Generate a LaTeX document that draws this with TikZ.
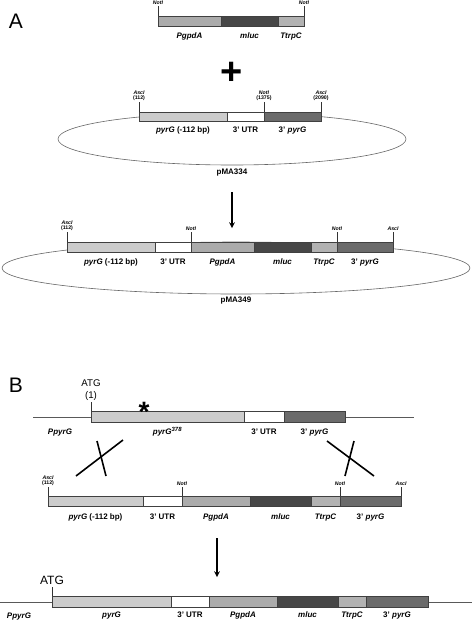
\documentclass[tikz,border=0pt]{standalone}
\usepackage{fontspec}
\setmainfont{Liberation Sans}
\usepackage{tikz}
\usetikzlibrary{arrows,shapes,positioning}

\begin{document}
\begin{tikzpicture}[x=1pt, y=-1pt, >=stealth, inner sep=0pt, outer sep=0pt, node distance=0pt,
  seg/.style={rectangle, draw=black!75, line width=0.6pt, minimum height=10pt},
  pyr/.style={seg, fill=black!20}, utr/.style={seg, fill=white},
  gpd/.style={seg, fill=black!33}, luc/.style={seg, fill=black!72},
  trp/.style={seg, fill=black!30}, end3/.style={seg, fill=black!58},
  lab/.style={font=\fontsize{8}{9}\selectfont\bfseries, text height=6pt, text depth=2pt},
  site/.style={font=\fontsize{5.2}{5.8}\selectfont\bfseries, align=center},
  tick/.style={draw=black!80, line width=0.6pt},
  dna/.style={draw=black!65, line width=0.8pt},
  plasmid/.style={ellipse, draw=black!60, line width=0.6pt},
  cross/.style={line width=1.6pt},
  panel/.style={font=\fontsize{21}{21}\selectfont, anchor=base west}]
\useasboundingbox (0,0) rectangle (472,622);

\node [panel] (pA) at (9,28) {A};
\node [panel] (pB) at (9,392) {B};

% cassette
\node [gpd, minimum width=63pt, anchor=west] (c1) at (158,21) {};
\node [luc, minimum width=57pt] (c2) [right=of c1] {};
\node [trp, minimum width=26pt] (c3) [right=of c2] {};
\coordinate [above=10pt of c1.north west] (cn1);
\coordinate [above=10pt of c3.north east] (cn2);
\draw [tick] (c1.north west) -- (cn1);
\draw [tick] (c3.north east) -- (cn2);
\node [site, above=1pt of cn1] (cs1) {\itshape NotI};
\node [site, above=1pt of cn2] (cs2) {\itshape NotI};
\node [lab, below=6pt of c1] (cl1) {\itshape PgpdA};
\node [lab, below=6pt of c2] (cl2) {\itshape mluc};
\node [lab, below=6pt of c3] (cl3) {\itshape TtrpC};

\node [font=\fontsize{38}{38}\selectfont\bfseries, anchor=base] (plus) at (232,84) {+};

% pMA334
\node [plasmid, minimum width=348pt, minimum height=52pt] (pl1) at (232,139) {};
\node [lab, below=3pt of pl1] (pl1n) {pMA334};
\node [pyr, minimum width=88pt, minimum height=9pt, anchor=west] (d1) at (139,116.5) {};
\node [utr, minimum width=37pt, minimum height=9pt] (d2) [right=of d1] {};
\node [end3, minimum width=57pt, minimum height=9pt] (d3) [right=of d2] {};
\coordinate [above=10pt of d1.north west] (dn1);
\coordinate [above=10pt of d3.north west] (dn2);
\coordinate [above=10pt of d3.north east] (dn3);
\draw [tick] (d1.north west) -- (dn1);
\draw [tick] (d3.north west) -- (dn2);
\draw [tick] (d3.north east) -- (dn3);
\node [site, above=1pt of dn1] (ds1) {\itshape AscI\\(112)};
\node [site, above=1pt of dn2] (ds2) {\itshape NotI\\(1375)};
\node [site, above=1pt of dn3] (ds3) {\itshape AscI\\(2090)};
\node [lab, below=5pt of d1] (dl1) {\itshape pyrG\upshape{} (-112 bp)};
\node [lab, below=5pt of d2] (dl2) {3' UTR};
\node [lab, below=5pt of d3] (dl3) {3' \itshape pyrG};

\coordinate (a1s) at (232,192);
\coordinate (a1e) at (232,228);
\draw [->, line width=1.5pt] (a1s) -- (a1e);

% pMA349
\node [plasmid, minimum width=468pt, minimum height=52pt] (pl2) at (236,268) {};
\node [lab, below=2pt of pl2] (pl2n) {pMA349};
\node [pyr, minimum width=88pt, anchor=west] (e1) at (67,247) {};
\node [utr, minimum width=36pt] (e2) [right=of e1] {};
\node [gpd, minimum width=63pt] (e3) [right=of e2] {};
\node [luc, minimum width=57pt] (e4) [right=of e3] {};
\node [trp, minimum width=26pt] (e5) [right=of e4] {};
\node [end3, minimum width=56pt] (e6) [right=of e5] {};
\coordinate [above=10pt of e1.north west] (en1);
\coordinate [above=10pt of e3.north west] (en2);
\coordinate [above=10pt of e6.north west] (en3);
\coordinate [above=10pt of e6.north east] (en4);
\draw [tick] (e1.north west) -- (en1);
\draw [tick] (e3.north west) -- (en2);
\draw [tick] (e6.north west) -- (en3);
\draw [tick] (e6.north east) -- (en4);
\node [site, above=1pt of en1] (es1) {\itshape AscI\\(112)};
\node [site, above=1pt of en2] (es2) {\itshape NotI};
\node [site, above=1pt of en3] (es3) {\itshape NotI};
\node [site, above=1pt of en4] (es4) {\itshape AscI};
\node [lab, below=6pt of e1] (el1) {\itshape pyrG\upshape{} (-112 bp)};
\node [lab, below=6pt of e2] (el2) {3' UTR};
\node [lab, below=6pt of e3] (el3) {\itshape PgpdA};
\node [lab, below=6pt of e4] (el4) {\itshape mluc};
\node [lab, below=6pt of e5] (el5) {\itshape TtrpC};
\node [lab, below=6pt of e6] (el6) {3' \itshape pyrG};

% B: genomic locus
\coordinate (g1l) at (33,417);
\coordinate (g1r) at (414,417);
\draw [dna] (g1l) -- (g1r);
\node [pyr, minimum width=153pt, minimum height=11pt, anchor=west] (f1) at (91,416.5) {};
\node [utr, minimum width=40pt, minimum height=11pt] (f2) [right=of f1] {};
\node [end3, minimum width=61pt, minimum height=11pt] (f3) [right=of f2] {};
\coordinate [above=9pt of f1.north west] (fn1);
\draw [tick] (f1.north west) -- (fn1);
\node [font=\fontsize{9.7}{11.5}\selectfont, align=center, above=1.5pt of fn1] (atg1) {ATG\\(1)};
\node [font=\fontsize{28}{28}\selectfont\bfseries, anchor=base] (mut) at (144,421) {*};
\node [lab, below=6pt of f1] (fl1) {\itshape pyrG\textsuperscript{378}};
\node [lab, below=6pt of f2] (fl2) {3' UTR};
\node [lab, below=6pt of f3] (fl3) {3' \itshape pyrG};
\node [lab] (fp1) at (60,432) {\itshape PpyrG};

% crossovers
\coordinate (x1a) at (97,441);  \coordinate (x1b) at (106,476);
\coordinate (x1c) at (123,440); \coordinate (x1d) at (76,476);
\coordinate (x2a) at (327,441); \coordinate (x2b) at (374,476);
\coordinate (x2c) at (354,441); \coordinate (x2d) at (345,476);
\draw [cross] (x1a) -- (x1b);
\draw [cross] (x1c) -- (x1d);
\draw [cross] (x2a) -- (x2b);
\draw [cross] (x2c) -- (x2d);

% linear fragment
\node [pyr, minimum width=95pt, anchor=west] (h1) at (48,501) {};
\node [utr, minimum width=39pt] (h2) [right=of h1] {};
\node [gpd, minimum width=68pt] (h3) [right=of h2] {};
\node [luc, minimum width=61pt] (h4) [right=of h3] {};
\node [trp, minimum width=29pt] (h5) [right=of h4] {};
\node [end3, minimum width=61pt] (h6) [right=of h5] {};
\coordinate [above=9pt of h1.north west] (hn1);
\coordinate [above=9pt of h3.north west] (hn2);
\coordinate [above=9pt of h6.north west] (hn3);
\coordinate [above=9pt of h6.north east] (hn4);
\draw [tick] (h1.north west) -- (hn1);
\draw [tick] (h3.north west) -- (hn2);
\draw [tick] (h6.north west) -- (hn3);
\draw [tick] (h6.north east) -- (hn4);
\node [site, above=1pt of hn1] (hs1) {\itshape AscI\\(112)};
\node [site, above=1pt of hn2] (hs2) {\itshape NotI};
\node [site, above=1pt of hn3] (hs3) {\itshape NotI};
\node [site, above=1pt of hn4] (hs4) {\itshape AscI};
\node [lab, below=7pt of h1] (hl1) {\itshape pyrG\upshape{} (-112 bp)};
\node [lab, below=7pt of h2] (hl2) {3' UTR};
\node [lab, below=7pt of h3] (hl3) {\itshape PgpdA};
\node [lab, below=7pt of h4] (hl4) {\itshape mluc};
\node [lab, below=7pt of h5] (hl5) {\itshape TtrpC};
\node [lab, below=7pt of h6] (hl6) {3' \itshape pyrG};

\coordinate (a2s) at (217,538);
\coordinate (a2e) at (217,577);
\draw [->, line width=1.5pt] (a2s) -- (a2e);

% integrated locus
\coordinate (g2l) at (0,602);
\coordinate (g2r) at (472,602);
\draw [dna] (g2l) -- (g2r);
\node [pyr, minimum width=119pt, minimum height=11pt, anchor=west] (k1) at (52,601.5) {};
\node [utr, minimum width=38pt, minimum height=11pt] (k2) [right=of k1] {};
\node [gpd, minimum width=68pt, minimum height=11pt] (k3) [right=of k2] {};
\node [luc, minimum width=61pt, minimum height=11pt] (k4) [right=of k3] {};
\node [trp, minimum width=28pt, minimum height=11pt] (k5) [right=of k4] {};
\node [end3, minimum width=62pt, minimum height=11pt] (k6) [right=of k5] {};
\coordinate [above=9pt of k1.north west] (kn1);
\draw [tick] (k1.north west) -- (kn1);
\node [font=\fontsize{12}{12}\selectfont, above=2pt of kn1] (atg2) {ATG};
\node [lab, below=4pt of k1] (kl1) {\itshape pyrG};
\node [lab, below=4pt of k2] (kl2) {3' UTR};
\node [lab, below=4pt of k3] (kl3) {\itshape PgpdA};
\node [lab, below=4pt of k4] (kl4) {\itshape mluc};
\node [lab, below=4pt of k5] (kl5) {\itshape TtrpC};
\node [lab, below=4pt of k6] (kl6) {3' \itshape pyrG};
\node [lab] (kp1) at (19,616) {\itshape PpyrG};
\end{tikzpicture}
\end{document}
